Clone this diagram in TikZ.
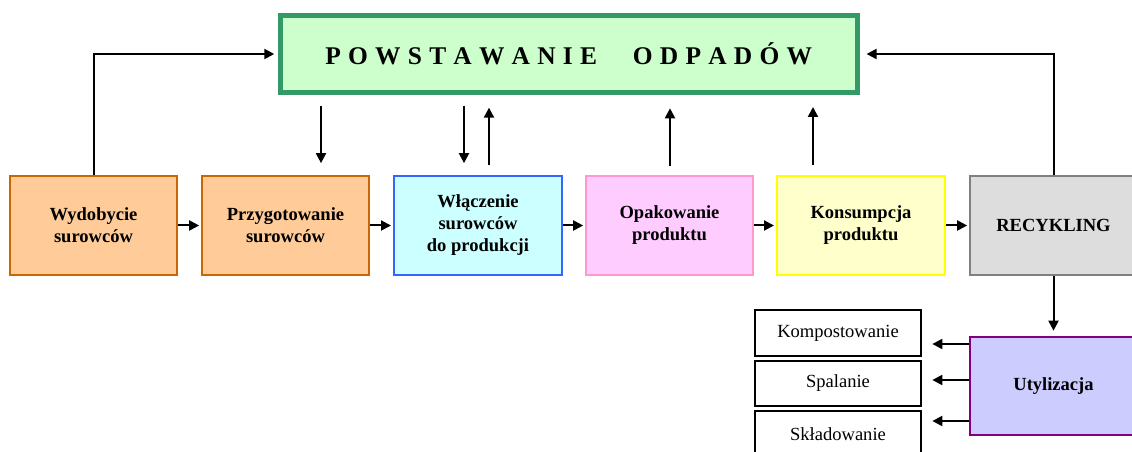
\documentclass[tikz,border=0pt]{standalone}
\usepackage{fontspec}
\setmainfont{Liberation Serif}
\usetikzlibrary{arrows.meta}

\definecolor{titlefill}{HTML}{CCFFCC}
\definecolor{titleline}{HTML}{339966}
\definecolor{orfill}{HTML}{FFCC99}
\definecolor{orline}{HTML}{CC6600}
\definecolor{cyfill}{HTML}{CCFFFF}
\definecolor{cyline}{HTML}{3366FF}
\definecolor{pkfill}{HTML}{FFCCFF}
\definecolor{pkline}{HTML}{FF99CC}
\definecolor{ylfill}{HTML}{FFFFCC}
\definecolor{ylline}{HTML}{FFFF00}
\definecolor{gyfill}{HTML}{DDDDDD}
\definecolor{gyline}{HTML}{808080}
\definecolor{vifill}{HTML}{CCCCFF}
\definecolor{viline}{HTML}{800080}

% letter spacing for the heading
\newcommand\tr{\hspace{5.4pt}}

\tikzset{
  stage/.style={draw, line width=1.5pt, minimum width=125pt, minimum height=74pt,
    inner sep=0pt, align=center, font=\fontsize{13.9pt}{16.5pt}\selectfont\bfseries},
  method/.style={draw=black, line width=1.5pt, fill=white, minimum width=125pt,
    minimum height=34pt, inner sep=0pt, font=\fontsize{13.9pt}{16.5pt}\selectfont},
  arr/.style={line width=1.5pt, -{Triangle[length=7.5pt,width=7.5pt]}},
}

\begin{document}
\begin{tikzpicture}[x=0.75pt,y=-0.75pt]
\useasboundingbox (0,0) rectangle (1132,452);
\clip (0,0) rectangle (1132,452);

% heading box
\node[draw=titleline, fill=titlefill, line width=3.75pt, minimum width=433pt,
      minimum height=57.75pt, inner sep=0pt,
      font=\fontsize{19.1pt}{22pt}\selectfont\bfseries] (title) at (568.75,54)
  {P\tr O\tr W\tr S\tr T\tr A\tr W\tr A\tr N\tr I\tr E\hspace{27pt}O\tr D\tr P\tr A\tr D\tr Ó\tr W};

% main chain of stages
\node[stage, draw=orline, fill=orfill] (wyd)   at (93.5,225.5)  {Wydobycie\\surowców};
\node[stage, draw=orline, fill=orfill] (prz)   at (285.5,225.5) {Przygotowanie\\surowców};
\node[stage, draw=cyline, fill=cyfill, minimum width=126pt] (wlacz) at (478,225.5) {Włączenie\\surowców\\do produkcji};
\node[stage, draw=pkline, fill=pkfill] (opak)  at (669.5,225.5) {Opakowanie\\produktu};
\node[stage, draw=ylline, fill=ylfill, minimum width=126pt] (kons)  at (861,225.5)   {Konsumpcja\\produktu};
\node[stage, draw=gyline, fill=gyfill] (recy)  at (1053.5,225.5) {RECYKLING};

% disposal
\node[stage, draw=viline, fill=vifill, minimum height=73.5pt] (util) at (1053.5,386) {Utylizacja};
\node[method] (komp) at (838,333)   {Kompostowanie};
\node[method] (spal) at (838,383.5) {Spalanie};
\node[method] (skl)  at (838,434)   {Składowanie};

% flow along the chain
\draw[arr, shorten >=1.5pt] (wyd)  -- (prz);
\draw[arr, shorten >=1.5pt] (prz)  -- (wlacz);
\draw[arr, shorten >=1.5pt] (wlacz) -- (opak);
\draw[arr, shorten >=1.5pt] (opak) -- (kons);
\draw[arr, shorten >=1.5pt] (kons) -- (recy);

% feedback to the heading
\draw[arr, shorten >=2.5pt] (wyd.north) |- (title.west);
\draw[arr, shorten >=5pt]   (recy.north) |- (title.east);

% vertical links between heading and stages
\coordinate (c1) at (321,0);
\coordinate (c2) at (464,0);
\coordinate (c3) at (489,0);
\coordinate (c4) at (670,0);
\coordinate (c5) at (813,0);
\draw[arr, shorten <=8pt, shorten >=9pt] (title.south -| c1) -- (prz.north -| c1);
\draw[arr, shorten <=8pt, shorten >=9pt] (title.south -| c2) -- (wlacz.north -| c2);
\draw[arr, shorten <=7.5pt, shorten >=9.5pt] (wlacz.north -| c3) -- (title.south -| c3);
\draw[arr, shorten <=6.5pt, shorten >=10pt] (opak.north -| c4) -- (title.south -| c4);
\draw[arr, shorten <=7.5pt, shorten >=9pt] (kons.north -| c5) -- (title.south -| c5);

% recycling to disposal
\draw[arr, shorten >=4pt] (recy) -- (util);

% disposal methods
\coordinate (r1) at (0,344);
\coordinate (r2) at (0,380);
\coordinate (r3) at (0,421);
\draw[arr, shorten >=7.5pt] (util.west |- r1) -- (komp.east |- r1);
\draw[arr, shorten >=7.5pt] (util.west |- r2) -- (spal.east |- r2);
\draw[arr, shorten >=7.5pt] (util.west |- r3) -- (skl.east |- r3);
\end{tikzpicture}
\end{document}
